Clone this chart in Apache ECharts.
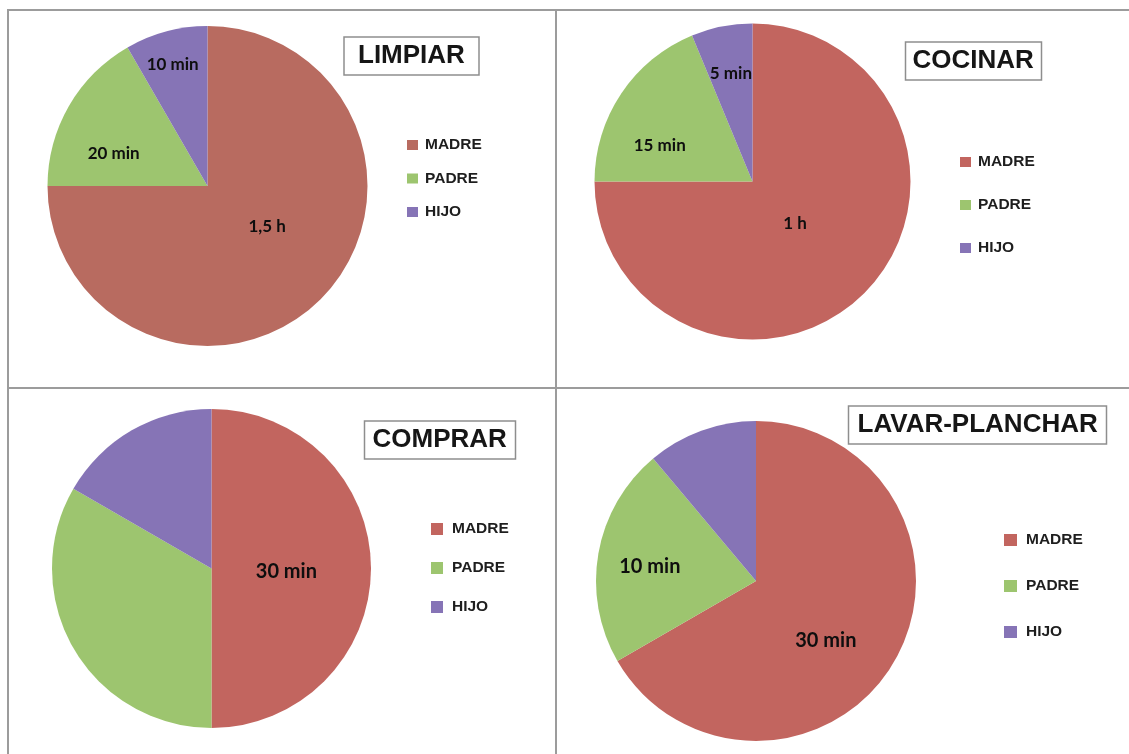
<!DOCTYPE html>
<html>
<head>
<meta charset="utf-8">
<script src="https://cdn.jsdelivr.net/npm/echarts@6/dist/echarts.min.js"></script>
<style>
  html, body { margin: 0; padding: 0; background: #ffffff; }
  #chart { width: 1129px; height: 754px; }
</style>
</head>
<body>
<div id="chart"></div>
<script>
// Who does the housework, minutes per task
const members = ['MADRE', 'PADRE', 'HIJO'];
const tasks = ['LIMPIAR', 'COCINAR', 'COMPRAR', 'LAVAR-PLANCHAR'];

const limpiarMin = [90, 20, 10];
const cocinarMin = [60, 15, 5];
const comprarMin = [30, 20, 10];
const lavarMin   = [30, 10, 5];

const limpiarLabels = ['1,5 h', '20 min', '10 min'];
const cocinarLabels = ['1 h', '15 min', '5 min'];
const comprarLabels = ['30 min', '', ''];
const lavarLabels   = ['30 min', '10 min', ''];

// Slice colours
const red = '#C2655F', redDark = '#B86B60', green = '#9DC56F', purple = '#8674B6';

// Layout of the four panels
const panels = [
  { task: tasks[0], values: limpiarMin, labels: limpiarLabels,
    colors: [redDark, green, purple],
    center: [207.5, 186], r: 160, labelSize: 17,
    // label placement: [fraction of radius, angular nudge in degrees]
    labelSpots: [[0.45, -11], [0.62, -11], [0.79, -1]],
    title: { left: 344, top: 37, padX: 14 },
    legend: { left: 407, top: 137, gap: 17.5, iw: 11, ih: 10, textPad: 2 } },
  { task: tasks[1], values: cocinarMin, labels: cocinarLabels,
    colors: [red, green, purple],
    center: [752.5, 181.5], r: 158, labelSize: 17,
    labelSpots: [[0.38, 0], [0.63, -12.5], [0.70, 0]],
    title: { left: 905, top: 42, padX: 7.5 },
    legend: { left: 960, top: 154, gap: 27, iw: 11, ih: 10, textPad: 2 } },
  { task: tasks[2], values: comprarMin, labels: comprarLabels,
    colors: [red, green, purple],
    center: [211.5, 568.5], r: 159.5, labelSize: 20,
    labelSpots: [[0.47, 2.7], [0.5, 0], [0.5, 0]],
    title: { left: 364, top: 421, padX: 8.5 },
    legend: { left: 431, top: 521, gap: 23, iw: 12, ih: 12, textPad: 4 } },
  { task: tasks[3], values: lavarMin, labels: lavarLabels,
    colors: [red, green, purple],
    center: [756, 581], r: 160, labelSize: 20,
    labelSpots: [[0.575, 10.6], [0.67, -2], [0.5, 0]],
    title: { left: 848, top: 406, padX: 9.5 },
    legend: { left: 1004, top: 532, gap: 30, iw: 13, ih: 12, textPad: 4 } }
];

const sansBold = { fontFamily: "'Liberation Sans', Arial, sans-serif", fontWeight: 'bold' };

// Puts each slice label at a chosen fraction of the radius along its mid angle
function labelPlacer(p) {
  return function (params) {
    const i = params.dataIndex;
    const total = p.values.reduce((a, b) => a + b, 0);
    let before = 0;
    for (let k = 0; k < i; k++) before += p.values[k];
    const spot = p.labelSpots[i];
    const ang = ((before + p.values[i] / 2) / total * 360 + spot[1]) * Math.PI / 180;
    const d = spot[0] * p.r;
    return {
      x: p.center[0] + d * Math.sin(ang),
      y: p.center[1] - d * Math.cos(ang),
      align: 'center',
      verticalAlign: 'middle'
    };
  };
}

const option = {
  backgroundColor: '#ffffff',
  animation: false,
  title: panels.map(p => ({
    text: p.task,
    left: p.title.left,
    top: p.title.top,
    padding: [6, p.title.padX, 6, p.title.padX],
    borderWidth: 1.5,
    borderColor: '#8e8e8e',
    backgroundColor: '#ffffff',
    textStyle: Object.assign({ fontSize: 26, lineHeight: 26, color: '#161616' }, sansBold)
  })),
  legend: panels.map(p => ({
    orient: 'vertical',
    left: p.legend.left,
    top: p.legend.top,
    padding: 0,
    itemGap: p.legend.gap,
    itemWidth: p.legend.iw,
    itemHeight: p.legend.ih,
    icon: 'rect',
    selectedMode: false,
    data: members.map((m, i) => ({ name: m, itemStyle: { color: p.colors[i] } })),
    textStyle: Object.assign({ fontSize: 15.5, lineHeight: 16, color: '#1e1e1e',
      padding: [0, 0, 0, p.legend.textPad] }, sansBold)
  })),
  series: panels.map(p => ({
    type: 'pie',
    center: p.center,
    radius: p.r,
    startAngle: 90,
    clockwise: true,
    silent: true,
    emphasis: { disabled: true },
    itemStyle: { borderWidth: 0 },
    labelLine: { show: false },
    label: {
      show: true,
      position: 'inside',
      formatter: params => p.labels[params.dataIndex],
      fontFamily: 'Lato, sans-serif',
      fontWeight: 'bold',
      fontSize: p.labelSize,
      color: '#0e0e0e'
    },
    labelLayout: labelPlacer(p),
    data: members.map((m, i) => ({ name: m, value: p.values[i], itemStyle: { color: p.colors[i] } }))
  })),
  graphic: [
    { type: 'line', shape: { x1: 7, y1: 10, x2: 1129, y2: 10 }, style: { stroke: '#9c9c9c', lineWidth: 2 } },
    { type: 'line', shape: { x1: 8, y1: 9, x2: 8, y2: 754 }, style: { stroke: '#9c9c9c', lineWidth: 2 } },
    { type: 'line', shape: { x1: 556, y1: 9, x2: 556, y2: 754 }, style: { stroke: '#9c9c9c', lineWidth: 2 } },
    { type: 'line', shape: { x1: 7, y1: 388, x2: 1129, y2: 388 }, style: { stroke: '#9c9c9c', lineWidth: 2 } }
  ]
};

const chart = echarts.init(document.getElementById('chart'), null, { renderer: 'canvas' });
chart.setOption(option);
</script>
</body>
</html>
